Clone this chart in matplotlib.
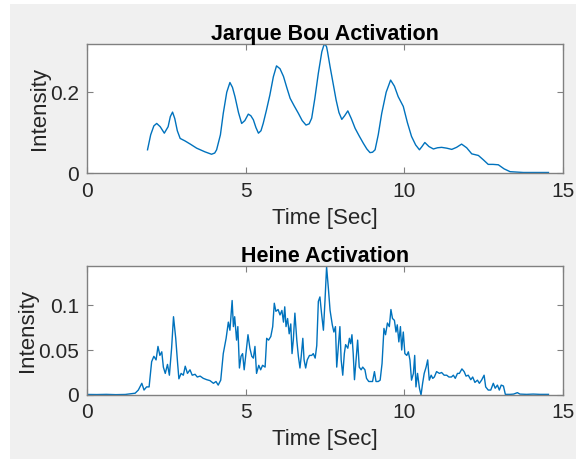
import matplotlib
matplotlib.use("Agg")
import matplotlib.pyplot as plt
from matplotlib.patches import Rectangle

plt.rcParams['font.family'] = ['Liberation Sans', 'DejaVu Sans']

# Jarque Bou activation (smooth envelope)
jb_time = [1.90, 2.00, 2.10, 2.19, 2.30, 2.43, 2.55, 2.62, 2.69, 2.76, 2.84, 2.93, 3.08, 3.25,
           3.45, 3.71, 3.92, 4.02, 4.08, 4.20, 4.29, 4.40, 4.50, 4.58, 4.66, 4.77, 4.87,
           4.97, 5.08, 5.16, 5.24, 5.32, 5.40, 5.48, 5.55, 5.65, 5.76, 5.87, 5.97,
           6.08, 6.19, 6.30, 6.40, 6.53, 6.66, 6.78, 6.90, 7.00, 7.08, 7.18, 7.29,
           7.40, 7.46, 7.50, 7.55, 7.58, 7.66, 7.76, 7.85, 7.94, 8.03, 8.12, 8.22, 8.33, 8.45,
           8.58, 8.71, 8.82, 8.92, 9.00, 9.08, 9.18, 9.29, 9.43, 9.57, 9.69, 9.81,
           9.97, 10.10, 10.23, 10.36, 10.48, 10.56, 10.65, 10.78, 10.92, 11.05, 11.18,
           11.34, 11.50, 11.65, 11.81, 11.97, 12.13, 12.34, 12.50, 12.65, 12.80, 12.97,
           13.15, 13.34, 13.55, 13.76, 14.10, 14.55]
jb_value = [0.058, 0.095, 0.117, 0.123, 0.115, 0.099, 0.115, 0.140, 0.151, 0.135, 0.105, 0.086,
            0.080, 0.072, 0.062, 0.053, 0.047, 0.050, 0.058, 0.095, 0.148, 0.200, 0.224, 0.212,
            0.189, 0.150, 0.123, 0.130, 0.146, 0.142, 0.132, 0.113, 0.099, 0.105, 0.123, 0.155,
            0.193, 0.238, 0.265, 0.258, 0.239, 0.210, 0.185, 0.166, 0.148, 0.130, 0.119, 0.122,
            0.136, 0.185, 0.247, 0.300, 0.315, 0.319, 0.312, 0.300, 0.263, 0.220, 0.181, 0.150,
            0.133, 0.142, 0.154, 0.135, 0.111, 0.092, 0.074, 0.060, 0.051, 0.052, 0.058, 0.095,
            0.148, 0.200, 0.230, 0.215, 0.189, 0.165, 0.125, 0.091, 0.070, 0.058, 0.066, 0.076,
            0.066, 0.060, 0.063, 0.064, 0.062, 0.059, 0.064, 0.072, 0.063, 0.048, 0.044, 0.033,
            0.022, 0.022, 0.021, 0.011, 0.004, 0.003, 0.002, 0.002, 0.002]

# Heine activation (raw, noisy)
h_time = [0.00, 0.30, 0.60, 0.90, 1.20, 1.51, 1.61, 1.72, 1.79, 1.87, 1.95, 2.03, 2.10, 2.17,
          2.23, 2.29, 2.35, 2.40, 2.46, 2.53, 2.59, 2.66, 2.72, 2.79, 2.85, 2.89, 2.96, 3.03,
          3.09, 3.16, 3.24, 3.31, 3.40, 3.47, 3.56, 3.66, 3.77, 3.87, 3.98, 4.06, 4.13, 4.21,
          4.29, 4.38, 4.45, 4.50, 4.57, 4.61, 4.65, 4.71, 4.75, 4.80, 4.85, 4.90, 4.95, 5.01,
          5.07, 5.13, 5.19, 5.24, 5.29, 5.34, 5.41, 5.47, 5.53, 5.61, 5.66, 5.72, 5.79, 5.85,
          5.90, 5.95, 6.02, 6.08, 6.14, 6.19, 6.23, 6.27, 6.32, 6.37, 6.42, 6.46, 6.50, 6.55,
          6.61, 6.66, 6.71, 6.75, 6.80, 6.84, 6.89, 6.94, 7.01, 7.08, 7.13, 7.19, 7.24, 7.29,
          7.34, 7.39, 7.45, 7.50, 7.55, 7.61, 7.66, 7.73, 7.78, 7.83, 7.87, 7.92, 7.97, 8.01,
          8.06, 8.11, 8.15, 8.22, 8.27, 8.31, 8.35, 8.39, 8.43, 8.48, 8.53, 8.58, 8.64, 8.69,
          8.76, 8.81, 8.88, 8.94, 9.00, 9.06, 9.11, 9.18, 9.24, 9.30, 9.36, 9.41, 9.47, 9.53,
          9.58, 9.63, 9.69, 9.74, 9.78, 9.83, 9.88, 9.92, 9.97, 10.02, 10.08, 10.13, 10.18,
          10.23, 10.29, 10.33, 10.37, 10.42, 10.48, 10.53, 10.58, 10.63, 10.69, 10.74, 10.79,
          10.85, 10.90, 10.95, 11.02, 11.11, 11.18, 11.26, 11.34, 11.41, 11.49, 11.55, 11.61,
          11.68, 11.74, 11.82, 11.89, 11.95, 12.02, 12.10, 12.16, 12.23, 12.31, 12.37, 12.44,
          12.52, 12.57, 12.65, 12.73, 12.81, 12.87, 12.94, 13.00, 13.06, 13.13, 13.19, 13.34,
          13.45, 13.57, 13.65, 13.86, 14.07, 14.28, 14.55]
h_value = [0.0006, 0.0005, 0.0007, 0.0004, 0.0006, 0.002, 0.0055, 0.013, 0.0055, 0.009, 0.009,
           0.037, 0.043, 0.039, 0.054, 0.044, 0.048, 0.031, 0.024, 0.034, 0.022, 0.052, 0.087,
           0.063, 0.035, 0.018, 0.024, 0.022, 0.032, 0.024, 0.028, 0.022, 0.023, 0.020, 0.021,
           0.0185, 0.017, 0.016, 0.013, 0.015, 0.011, 0.0165, 0.046, 0.063, 0.081, 0.072, 0.105,
           0.076, 0.087, 0.061, 0.076, 0.030, 0.043, 0.046, 0.028, 0.048, 0.067, 0.052, 0.043,
           0.041, 0.054, 0.024, 0.033, 0.028, 0.033, 0.031, 0.063, 0.061, 0.065, 0.076, 0.102,
           0.093, 0.095, 0.089, 0.094, 0.081, 0.098, 0.076, 0.085, 0.068, 0.079, 0.046, 0.061,
           0.091, 0.061, 0.043, 0.030, 0.043, 0.063, 0.039, 0.030, 0.039, 0.044, 0.044, 0.046,
           0.041, 0.055, 0.104, 0.109, 0.091, 0.072, 0.105, 0.1425, 0.117, 0.094, 0.078, 0.070,
           0.076, 0.031, 0.054, 0.076, 0.039, 0.022, 0.046, 0.056, 0.052, 0.063, 0.057, 0.067,
           0.046, 0.017, 0.039, 0.061, 0.031, 0.028, 0.031, 0.028, 0.0185, 0.015, 0.015, 0.015,
           0.026, 0.015, 0.015, 0.0165, 0.035, 0.074, 0.067, 0.080, 0.076, 0.095, 0.085, 0.083,
           0.070, 0.078, 0.059, 0.076, 0.050, 0.070, 0.046, 0.044, 0.048, 0.039, 0.0165, 0.024,
           0.044, 0.009, 0.024, 0.0075, 0.0, 0.013, 0.024, 0.031, 0.039, 0.0165, 0.022, 0.0185,
           0.020, 0.026, 0.024, 0.025, 0.022, 0.022, 0.020, 0.020, 0.022, 0.0185, 0.024, 0.024,
           0.029, 0.026, 0.021, 0.022, 0.017, 0.020, 0.014, 0.0165, 0.013, 0.0165, 0.022, 0.009,
           0.0055, 0.0055, 0.013, 0.0075, 0.011, 0.0055, 0.011, 0.010, 0.0007, 0.0007, 0.001,
           0.0026, 0.001, 0.0007, 0.001, 0.0007, 0.0007]

jb_yticks = [0, 0.2]
jb_yticklabels = ['0', '0.2']
h_yticks = [0, 0.05, 0.1]
h_yticklabels = ['0', '0.05', '0.1']
xticks = [0, 5, 10, 15]
xticklabels = ['0', '5', '10', '15']

LINE = '#0072BD'
TXT = '#262626'
EDGE = '#808080'

W, H = 576, 459
fig = plt.figure(figsize=(W / 100, H / 100), dpi=100, facecolor='white')
fig.patches.append(Rectangle((10 / W, 0), 1 - 10 / W, 1 - 4 / H, transform=fig.transFigure,
                             facecolor='#f0f0f0', edgecolor='none', zorder=-10))


def panel(rect, t, v, title, yticks, ylabels, ymax):
    ax = fig.add_axes(rect)
    ax.set_facecolor('white')
    ax.plot(t, v, color=LINE, lw=1.0)
    ax.set_xlim(0, 15)
    ax.set_ylim(0, ymax)
    ax.set_xticks(xticks)
    ax.set_xticklabels(xticklabels)
    ax.set_yticks(yticks)
    ax.set_yticklabels(ylabels)
    ax.tick_params(direction='in', length=4, width=0.8, colors=EDGE, labelcolor=TXT,
                   labelsize=15, top=True, right=True, pad=6)
    for s in ax.spines.values():
        s.set_color(EDGE)
        s.set_linewidth(1.0)
    ax.set_xlabel('Time [Sec]', fontsize=16, color=TXT, labelpad=5)
    ax.set_ylabel('Intensity', fontsize=16, color=TXT, labelpad=0)
    ax.set_title(title, fontsize=15.5, fontweight='bold', color='black', pad=3)
    return ax


panel([87.3 / W, 1 - 173.3 / H, 475.4 / W, 129.3 / H], jb_time, jb_value,
      'Jarque Bou Activation', jb_yticks, jb_yticklabels, 0.319)
panel([87.3 / W, 1 - 395.0 / H, 475.4 / W, 129.3 / H], h_time, h_value,
      'Heine Activation', h_yticks, h_yticklabels, 0.1437)

fig.savefig('out.png', dpi=100, facecolor=fig.get_facecolor())
